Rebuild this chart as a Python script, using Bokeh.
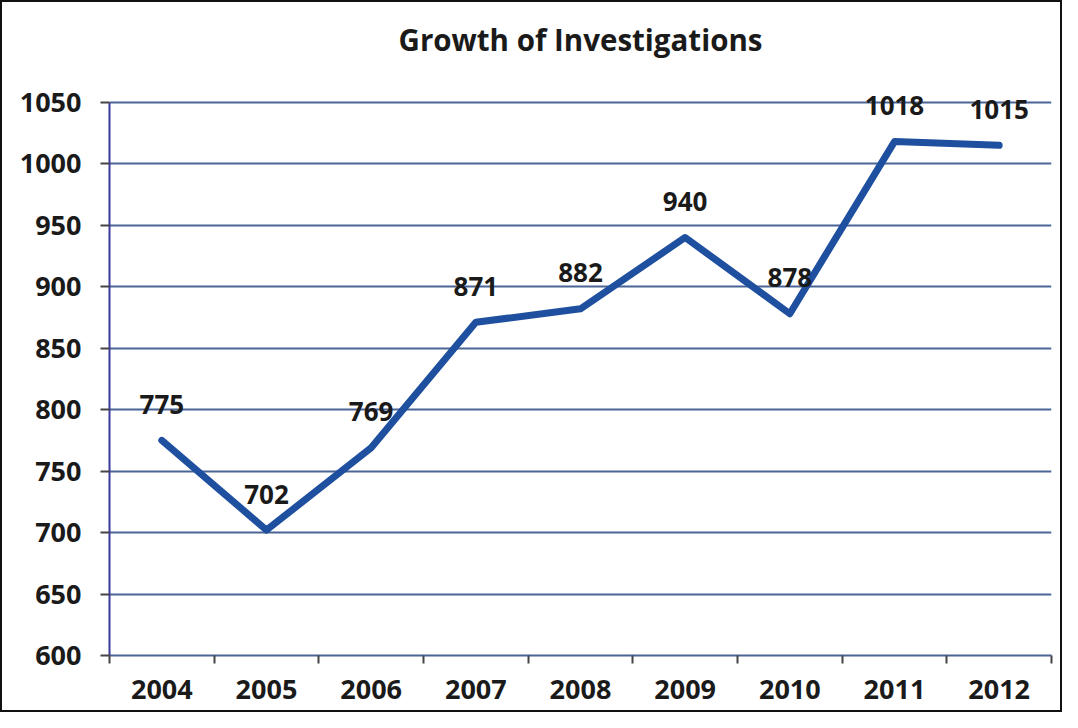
from bokeh.plotting import figure
from bokeh.models import FixedTicker, Range1d, ColumnDataSource, LabelSet
from bokeh.core.properties import value
from bokeh.embed import file_html
from bokeh.resources import INLINE

years = ["2004", "2005", "2006", "2007", "2008", "2009", "2010", "2011", "2012"]
investigations = [775, 702, 769, 871, 882, 940, 878, 1018, 1015]
y_ticks = [600, 650, 700, 750, 800, 850, 900, 950, 1000, 1050]

xs = [i + 0.5 for i in range(len(years))]
src = ColumnDataSource(dict(x=xs, y=investigations, lab=[str(v) for v in investigations]))

FONT = "Open Sans"
GRID = "#4a6595"
Y_MIN, Y_MAX = y_ticks[0], y_ticks[-1]

p = figure(width=1062, height=712, output_backend="svg", toolbar_location=None,
           x_range=Range1d(0, len(years)), y_range=Range1d(Y_MIN, Y_MAX + 25),
           min_border_left=107, min_border_right=13, min_border_top=69, min_border_bottom=59,
           title="Growth of Investigations")
p.styles = {"border": "2px solid #111", "box-sizing": "border-box"}
p.title.align = "center"
p.title.text_font = FONT
p.title.text_font_size = "29.5px"
p.title.text_font_style = "bold"
p.title.text_color = "#1a1a1a"
p.title.standoff = 23
p.outline_line_color = None

p.line("x", "y", source=src, line_color="#1f4f9f", line_width=7, line_join="round", line_cap="round")
labels = LabelSet(x="x", y="y", text="lab", source=src, y_offset=36, text_align="center",
                  text_baseline="middle", text_font=value(FONT), text_font_size="26px",
                  text_font_style="bold", text_color="#1a1a1a", level="overlay")
p.add_layout(labels)

# x axis: labels at centers, ticks between categories
p.xaxis.ticker = FixedTicker(ticks=xs, minor_ticks=list(range(len(years) + 1)))
p.xaxis.major_label_overrides = {x: y for x, y in zip(xs, years)}
p.xaxis.major_tick_line_color = None
p.xaxis.major_tick_out = 8
p.xaxis.major_tick_in = 0
p.xaxis.minor_tick_line_color = "#444444"
p.xaxis.minor_tick_line_width = 2
p.xaxis.minor_tick_out = 8
p.xaxis.minor_tick_in = 0
p.xaxis.axis_line_color = GRID
p.xaxis.axis_line_width = 2
p.xaxis.major_label_standoff = 16

p.yaxis.ticker = FixedTicker(ticks=y_ticks)
p.yaxis.bounds = (Y_MIN, Y_MAX)
p.yaxis.major_tick_out = 9
p.yaxis.major_tick_in = 0
p.yaxis.major_tick_line_color = "#444444"
p.yaxis.major_tick_line_width = 2
p.yaxis.minor_tick_line_color = None
p.yaxis.axis_line_color = "#3a3a9a"
p.yaxis.axis_line_width = 2
p.yaxis.major_label_standoff = 19

for ax in (p.xaxis, p.yaxis):
    ax.major_label_text_font = FONT
    ax.major_label_text_font_size = "27px"
    ax.major_label_text_font_style = "bold"
    ax.major_label_text_color = "#1a1a1a"

p.xgrid.grid_line_color = None
p.ygrid.ticker = FixedTicker(ticks=y_ticks)
p.ygrid.grid_line_color = GRID
p.ygrid.grid_line_width = 2

open("out.html", "w").write(file_html(p, INLINE))
